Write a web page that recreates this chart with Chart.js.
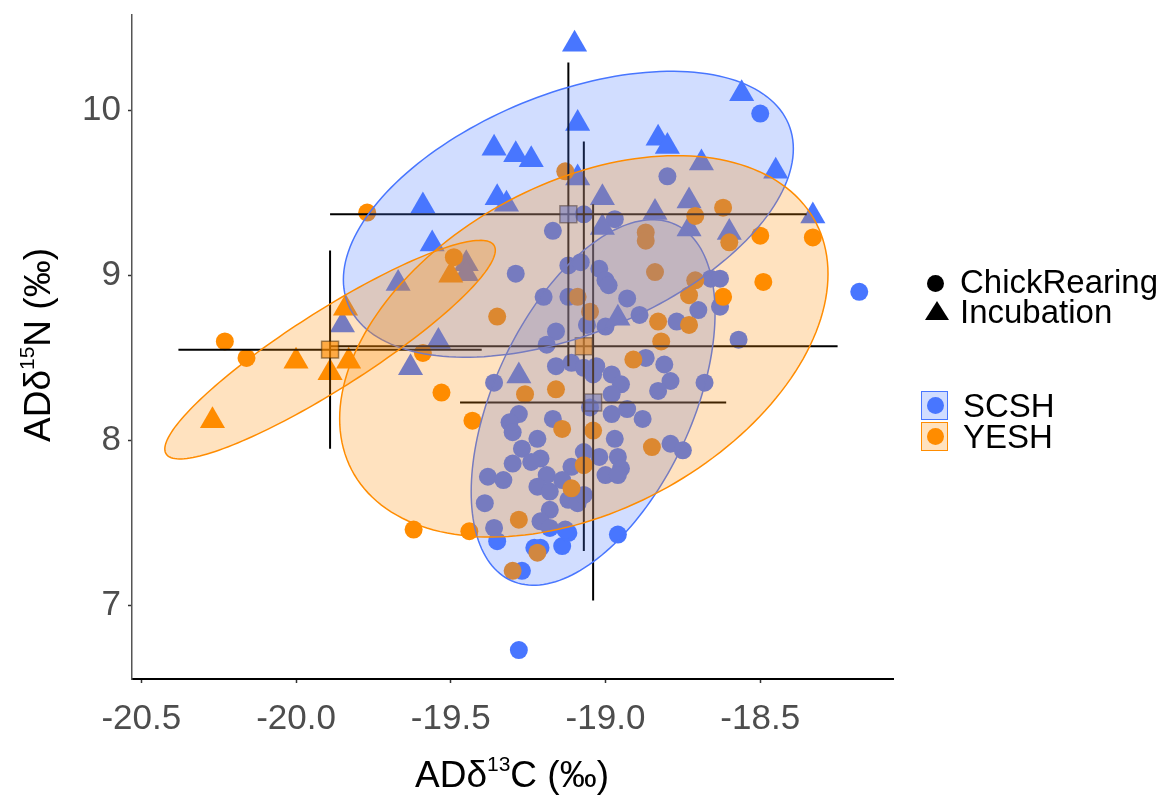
<!DOCTYPE html>
<html>
<head>
<meta charset="utf-8">
<script src="https://cdn.jsdelivr.net/npm/chart.js@4.4.1/dist/chart.umd.min.js"></script>
<style>
  body { margin: 0; background: #fff; }
  #wrap { position: relative; width: 1169px; height: 800px; font-family: 'Liberation Sans', Arial, sans-serif; }
  .lbl { position: absolute; white-space: nowrap; color: #000; line-height: 40px; }
  .title { font-size: 37px; width: 400px; height: 40px; text-align: center; }
  .title .sup { font-size: 21px; position: relative; top: -16px; }
  .key-text { font-size: 33px; }
  .dot { position: absolute; border-radius: 50%; }
  .tri { position: absolute; width: 0; height: 0; border-left: 12px solid transparent; border-right: 12px solid transparent; border-bottom: 19px solid #000; }
  .box { position: absolute; width: 25px; height: 27px; }
</style>
</head>
<body>
<div id="wrap">
  <canvas id="myChart" width="1169" height="800"></canvas>

  <div class="lbl title" style="left: 312px; top: 755px;">ADδ<span class="sup">13</span>C (‰)</div>
  <div class="lbl title" style="left: -162px; top: 325px; transform: rotate(-90deg);">ADδ<span class="sup">15</span>N (‰)</div>

  <!-- shape legend -->
  <div class="dot" style="left: 927px; top: 275px; width: 17px; height: 17px; background: #000;"></div>
  <div class="lbl key-text" style="left: 960px; top: 262px;">ChickRearing</div>
  <div class="tri" style="left: 925px; top: 301px;"></div>
  <div class="lbl key-text" style="left: 960px; top: 292px;">Incubation</div>

  <!-- species legend -->
  <div class="box" style="left: 921px; top: 391px; border: 1.5px solid #4876FF; background: rgba(72,118,255,0.25);"></div>
  <div class="dot" style="left: 927px; top: 397px; width: 17px; height: 17px; background: #4876FF;"></div>
  <div class="lbl key-text" style="left: 963px; top: 386px;">SCSH</div>
  <div class="box" style="left: 921px; top: 422px; border: 1.5px solid #FF8C00; background: rgba(255,140,0,0.25);"></div>
  <div class="dot" style="left: 927px; top: 428px; width: 17px; height: 17px; background: #FF8C00;"></div>
  <div class="lbl key-text" style="left: 963px; top: 417px;">YESH</div>
</div>
<script>
// Axis ticks
const xTickValues = [-20.5, -20.0, -19.5, -19.0, -18.5];
const xTickLabels = ['-20.5', '-20.0', '-19.5', '-19.0', '-18.5'];
const yTickValues = [7, 8, 9, 10];
const yTickLabels = ['7', '8', '9', '10'];

// SCSH, chick rearing (circles)
const scshChickX = [-18.50, -18.18, -19.28, -19.35, -19.23, -19.21, -19.14, -19.12, -18.96, -19.27,
  -18.80, -19.07, -18.97, -19.17, -19.12, -19.08, -19.02, -19.00, -18.99, -19.29,
  -18.66, -18.63, -19.20, -19.12, -18.93, -18.89, -18.70, -18.63, -18.77, -19.06,
  -19.00, -19.16, -19.19, -18.57, -18.87, -18.81, -19.16, -19.11, -19.07, -19.03,
  -19.04, -18.98, -18.95, -18.98, -18.79, -18.83, -18.68, -19.36, -19.05, -19.28,
  -19.31, -19.30, -19.17, -18.98, -18.93, -18.88, -18.97, -18.79, -18.75, -19.22,
  -19.27, -19.21, -19.24, -19.30, -19.07, -19.11, -19.02, -18.96, -18.95, -19.00,
  -18.96, -19.38, -19.33, -19.19, -19.22, -19.18, -19.14, -19.12, -19.09, -19.07,
  -19.39, -19.18, -19.21, -19.36, -19.18, -19.13];
const scshChickY = [9.98, 8.90, 6.73, 7.39, 7.35, 7.35, 7.36, 7.44, 7.43, 7.21,
  9.60, 9.37, 9.34, 9.27, 9.06, 9.08, 9.04, 8.97, 8.94, 9.01,
  8.98, 8.98, 8.87, 8.87, 8.86, 8.76, 8.79, 8.81, 8.72, 8.70,
  8.69, 8.66, 8.58, 8.61, 8.50, 8.46, 8.45, 8.47, 8.44, 8.45,
  8.40, 8.40, 8.34, 8.28, 8.36, 8.30, 8.35, 8.35, 8.20, 8.16,
  8.11, 8.05, 8.13, 8.16, 8.19, 8.13, 8.01, 7.98, 7.94, 8.01,
  7.95, 7.89, 7.87, 7.86, 7.93, 7.84, 7.90, 7.90, 7.83, 7.79,
  7.79, 7.78, 7.76, 7.79, 7.72, 7.69, 7.76, 7.64, 7.62, 7.67,
  7.62, 7.58, 7.51, 7.47, 7.47, 7.46];

// SCSH, incubation (triangles)
const scshIncX = [-19.10, -19.09, -18.83, -18.80, -18.56, -18.45, -18.33, -19.36, -19.29, -19.24,
  -19.59, -19.56, -19.35, -19.32, -19.09, -19.01, -19.01, -18.84, -18.73, -18.73,
  -18.60, -18.69, -18.96, -19.28, -19.54, -19.63, -19.45, -19.45, -19.67, -19.85];
const scshIncY = [10.40, 9.92, 9.83, 9.78, 10.10, 9.63, 9.36, 9.77, 9.73, 9.70,
  9.42, 9.19, 9.47, 9.43, 9.59, 9.47, 9.29, 9.38, 9.45, 9.28,
  9.26, 9.68, 8.74, 8.39, 8.60, 8.44, 9.07, 9.01, 8.95, 8.70];

// YESH, chick rearing (circles)
const yeshChickX = [-19.77, -19.49, -19.35, -20.23, -20.16, -19.59, -19.53, -19.43, -19.26, -19.28,
  -19.62, -19.44, -19.30, -19.22, -19.13, -18.87, -18.87, -18.84, -18.71, -18.62,
  -18.73, -18.73, -18.83, -18.82, -18.62, -18.71, -18.60, -18.50, -18.33, -18.49,
  -19.09, -19.05, -18.91, -19.16, -19.14, -19.04, -18.85, -19.07, -19.11];
const yeshChickY = [9.38, 9.11, 8.75, 8.60, 8.50, 8.53, 8.29, 8.12, 8.28, 7.52,
  7.46, 7.45, 7.21, 7.32, 9.63, 9.26, 9.21, 9.02, 8.97, 8.87,
  8.88, 8.70, 8.72, 8.60, 9.41, 9.36, 9.20, 9.24, 9.23, 8.96,
  8.87, 8.78, 8.49, 8.31, 8.07, 8.06, 7.96, 7.85, 7.71];

// YESH, incubation (triangles)
const yeshIncX = [-19.84, -19.50, -20.00, -19.89, -19.83, -20.27];
const yeshIncY = [8.80, 9.00, 8.48, 8.41, 8.48, 8.12];

// Group summaries: SCSH-CR, SCSH-Inc, YESH-CR, YESH-Inc
const groupNames = ['SCSH ChickRearing', 'SCSH Incubation', 'YESH ChickRearing', 'YESH Incubation'];
const groupSpecies = ['SCSH', 'SCSH', 'YESH', 'YESH'];
const meanX = [-19.04, -19.12, -19.07, -19.89];
const meanY = [8.23, 9.37, 8.57, 8.55];
const sdX = [0.43, 0.77, 0.82, 0.49];
const sdY = [1.20, 0.92, 1.24, 0.60];
// Ellipse extents (half range in x and y) and correlation
const ellHalfX = [0.394, 0.727, 0.789, 0.534];
const ellHalfY = [1.107, 0.866, 1.155, 0.662];
const ellCorr = [0.489, 0.458, 0.380, 0.909];

const speciesColor = { SCSH: '#4876FF', YESH: '#FF8C00' };
const speciesFill = { SCSH: 'rgba(72,118,255,0.25)', YESH: 'rgba(255,140,0,0.25)' };
const speciesSquare = { SCSH: 'rgba(72,118,255,0.6)', YESH: 'rgba(255,140,0,0.65)' };

const toPoints = (xs, ys) => xs.map((v, i) => ({ x: v, y: ys[i] }));

// Ellipses are drawn over the points, like the polygons in the original plot
const ellipsePlugin = {
    id: 'groupEllipses',
    afterDatasetsDraw(chart) {
        const { ctx, scales: { x, y } } = chart;
        ctx.save();
        groupNames.forEach((g, i) => {
            const r = ellCorr[i];
            const k = Math.sqrt(1 - r * r);
            ctx.beginPath();
            for (let s = 0; s <= 180; s++) {
                const t = s / 180 * 2 * Math.PI;
                const px = x.getPixelForValue(meanX[i] + ellHalfX[i] * Math.cos(t));
                const py = y.getPixelForValue(meanY[i] + ellHalfY[i] * (r * Math.cos(t) + k * Math.sin(t)));
                if (s === 0) ctx.moveTo(px, py); else ctx.lineTo(px, py);
            }
            ctx.closePath();
            ctx.fillStyle = speciesFill[groupSpecies[i]];
            ctx.fill();
            ctx.strokeStyle = speciesColor[groupSpecies[i]];
            ctx.lineWidth = 1.5;
            ctx.stroke();
        });
        ctx.restore();
    }
};

// Error bar segments (mean +/- sd) for each group
const errorSets = [];
groupNames.forEach((g, i) => {
    const seg = {
        type: 'line',
        borderColor: '#000',
        borderWidth: 2,
        pointRadius: 0,
        fill: false,
        order: 2
    };
    errorSets.push(Object.assign({ label: g + ' x', data: [{ x: meanX[i] - sdX[i], y: meanY[i] }, { x: meanX[i] + sdX[i], y: meanY[i] }] }, seg));
    errorSets.push(Object.assign({ label: g + ' y', data: [{ x: meanX[i], y: meanY[i] - sdY[i] }, { x: meanX[i], y: meanY[i] + sdY[i] }] }, seg));
});

const tickFont = { family: "'Liberation Sans', Arial, sans-serif", size: 35 };

const ctx = document.getElementById('myChart').getContext('2d');
const chart = new Chart(ctx, {
    type: 'scatter',
    data: {
        datasets: [
            {
                label: 'SCSH ChickRearing',
                data: toPoints(scshChickX, scshChickY),
                pointStyle: 'circle',
                pointRadius: 9,
                pointBorderWidth: 0,
                backgroundColor: speciesColor.SCSH,
                order: 6
            },
            {
                label: 'SCSH Incubation',
                data: toPoints(scshIncX, scshIncY),
                pointStyle: 'triangle',
                pointRadius: 14.5,
                pointBorderWidth: 0,
                backgroundColor: speciesColor.SCSH,
                order: 5
            },
            {
                label: 'YESH ChickRearing',
                data: toPoints(yeshChickX, yeshChickY),
                pointStyle: 'circle',
                pointRadius: 9,
                pointBorderWidth: 0,
                backgroundColor: speciesColor.YESH,
                order: 4
            },
            {
                label: 'YESH Incubation',
                data: toPoints(yeshIncX, yeshIncY),
                pointStyle: 'triangle',
                pointRadius: 14.5,
                pointBorderWidth: 0,
                backgroundColor: speciesColor.YESH,
                order: 3
            },
            ...errorSets,
            {
                label: 'Group means',
                data: toPoints(meanX, meanY),
                pointStyle: 'rect',
                pointRadius: 12,
                pointBorderWidth: 1.5,
                borderColor: 'rgba(0,0,0,0.5)',
                backgroundColor: groupSpecies.map(s => speciesSquare[s]),
                order: 1
            }
        ]
    },
    options: {
        responsive: false,
        animation: false,
        devicePixelRatio: 1,
        layout: { padding: { left: 0, right: 276, top: 10, bottom: 61 } },
        plugins: { legend: { display: false }, tooltip: { enabled: false } },
        scales: {
            x: {
                type: 'linear',
                min: -20.53,
                max: -18.071,
                afterBuildTicks: scale => { scale.ticks = xTickValues.map(v => ({ value: v })); },
                afterFit: scale => { scale.height = 60; scale.paddingLeft = 0; scale.paddingRight = 0; },
                ticks: {
                    autoSkip: false,
                    maxRotation: 0,
                    padding: 15,
                    color: '#4d4d4d',
                    font: tickFont,
                    callback: v => xTickLabels[xTickValues.indexOf(v)]
                },
                grid: { drawOnChartArea: false, drawTicks: true, tickLength: 4, tickColor: '#333', tickWidth: 1.5 },
                border: { display: true, color: '#000', width: 2 }
            },
            y: {
                type: 'linear',
                min: 6.555,
                max: 10.58,
                afterBuildTicks: scale => { scale.ticks = yTickValues.map(v => ({ value: v })); },
                afterFit: scale => { scale.width = 132; scale.paddingTop = 0; scale.paddingBottom = 0; },
                ticks: {
                    autoSkip: false,
                    padding: 7,
                    color: '#4d4d4d',
                    font: tickFont,
                    callback: v => yTickLabels[yTickValues.indexOf(v)]
                },
                grid: { drawOnChartArea: false, drawTicks: true, tickLength: 4, tickColor: '#333', tickWidth: 1.5 },
                border: { display: true, color: '#555', width: 1.5 }
            }
        }
    },
    plugins: [ellipsePlugin]
});
</script>
</body>
</html>
